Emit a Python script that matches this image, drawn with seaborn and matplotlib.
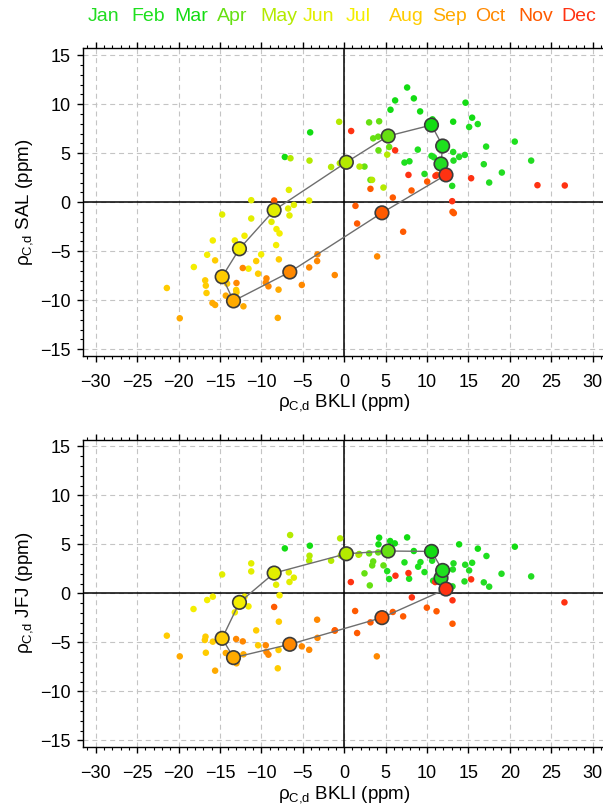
import numpy as np
import pandas as pd
import matplotlib
matplotlib.use("Agg")
import matplotlib.pyplot as plt
import seaborn as sns
from matplotlib.ticker import MultipleLocator

# ---------------- data ----------------
months = ["Jan", "Feb", "Mar", "Apr", "May", "Jun", "Jul", "Aug", "Sep", "Oct", "Nov", "Dec"]
month_colors = ["#22dc22", "#1ee01e", "#12dc12", "#66e012", "#b4ea00", "#e2ee00",
                "#f4ee00", "#ffcc00", "#ffaa00", "#ff8800", "#ff5a00", "#ff3212"]

# monthly mean values (large markers)
mean_bkli = [11.70, 11.90, 10.55, 5.32, 0.27, -8.45, -12.64, -14.73, -13.36, -6.56, 4.57, 12.30]
mean_sal = [3.90, 5.73, 7.87, 6.75, 4.07, -0.82, -4.76, -7.61, -10.08, -7.13, -1.09, 2.78]
mean_jfj = [1.56, 2.34, 4.28, 4.32, 4.04, 2.07, -0.92, -4.59, -6.56, -5.20, -2.48, 0.44]

# individual values, SAL panel: (BKLI, SAL) per month
sal_pts = {
    "Jan": [(13.17, 5.12), (13.89, 4.61), (14.58, 4.82), (13.21, 4.24), (16.87, 3.87),
            (19.05, 3.02), (17.52, 2.00), (13.05, 1.66), (9.71, 2.88), (22.59, 4.24)],
    "Feb": [(10.55, 4.72), (10.84, 4.58), (8.90, 5.36), (17.15, 5.67), (20.61, 6.18),
            (7.89, 4.17), (7.29, 4.04), (15.10, 7.67), (16.14, 7.97)],
    "Mar": [(7.61, 11.70), (8.42, 10.59), (6.16, 10.38), (5.60, 9.43), (9.18, 9.26),
            (14.66, 10.15), (15.46, 8.62), (13.17, 8.21), (10.67, 8.45), (-4.10, 7.12), (-7.16, 4.61)],
    "Apr": [(3.02, 8.14), (4.23, 8.25), (3.51, 6.51), (4.11, 6.68), (4.15, 5.29),
            (5.44, 5.63), (2.46, 3.63), (3.18, 2.27)],
    "May": [(-0.60, 8.20), (-6.48, 4.48), (-4.18, 4.24), (-1.57, 3.59), (-0.52, 3.97),
            (1.86, 3.63), (4.75, 1.49), (3.38, 2.27), (5.20, 4.85)],
    "Jun": [(-6.67, 1.25), (-11.22, 0.20), (-4.22, 0.16), (-6.07, -0.28), (-6.76, -0.65),
            (-6.60, -1.36), (-14.73, -1.26), (-11.22, -1.67), (-8.77, -2.01)],
    "Jul": [(-8.17, -2.75), (-7.80, -3.19), (-12.03, -3.43), (-13.20, -3.91), (-15.86, -3.91),
            (-8.21, -4.38), (-10.02, -5.33), (-16.54, -5.37), (-18.15, -6.62), (-11.55, -6.79)],
    "Aug": [(-15.58, -5.94), (-7.88, -5.84), (-10.62, -6.01), (-10.39, -7.30), (-16.78, -7.98),
            (-16.70, -8.52), (-16.62, -9.27), (-14.13, -8.32), (-21.41, -8.76), (-13.04, -8.96),
            (-13.00, -9.20)],
    "Sep": [(-14.29, -9.54), (-12.16, -10.63), (-19.85, -11.85), (-8.01, -11.81), (-7.92, -8.93),
            (-15.90, -10.29), (-15.58, -10.49)],
    "Oct": [(-12.24, -6.72), (-3.22, -5.33), (-3.26, -6.01), (-4.22, -6.66), (-1.13, -7.44),
            (-5.11, -8.45), (-9.38, -7.78), (-9.46, -8.22), (-9.14, -8.59), (-13.00, -8.25),
            (3.99, -5.54)],
    "Nov": [(1.37, -0.38), (1.57, -2.18), (7.13, -3.02), (13.09, -0.99), (13.25, -1.12),
            (3.18, 1.36), (5.88, 0.47), (8.14, 1.19), (10.03, 2.10), (11.20, 2.78), (-8.45, 0.17)],
    "Dec": [(0.85, 7.26), (6.16, 5.29), (7.77, 2.78), (11.03, 2.68), (15.34, 2.44),
            (23.35, 1.73), (26.65, 1.70), (13.05, 0.10)],
}

# individual values, JFJ panel: (BKLI, JFJ) per month
jfj_pts = {
    "Jan": [(13.21, 3.06), (13.13, 2.44), (14.62, 2.92), (15.10, 2.34), (19.01, 2.00),
            (22.59, 1.73), (13.09, 0.71), (14.54, 1.22), (16.87, 1.12), (17.52, 0.68), (10.75, 1.29)],
    "Feb": [(9.71, 2.17), (7.85, 1.49), (5.44, 1.46), (9.22, 3.19), (8.94, 2.72),
            (7.29, 3.16), (5.20, 2.27), (17.19, 3.81), (15.46, 3.12), (10.63, 3.33)],
    "Mar": [(4.23, 5.68), (5.56, 5.34), (6.12, 5.10), (7.61, 5.71), (13.89, 5.00),
            (16.15, 4.56), (20.62, 4.76), (8.42, 4.32), (4.15, 5.00), (-4.14, 4.86), (-7.16, 4.59)],
    "Apr": [(3.02, 4.08), (4.11, 4.18), (3.51, 3.26), (2.46, 2.04), (3.10, 0.81),
            (1.82, 4.01), (3.39, 2.85), (4.75, 2.85)],
    "May": [(-0.48, 5.61), (-6.52, 5.95), (-4.18, 3.84), (-4.22, 3.33), (-1.57, 3.33),
            (-0.40, 3.87), (1.74, 3.94)],
    "Jun": [(-11.22, 3.06), (-11.22, 2.24), (-14.73, 1.93), (-6.68, 2.14), (-6.07, 1.60),
            (-6.60, 1.16), (-8.21, 0.88)],
    "Jul": [(-7.80, -0.20), (-16.54, -0.68), (-15.86, -0.34), (-18.19, -1.60), (-12.03, -0.34),
            (-11.55, -1.33), (-13.20, -1.94)],
    "Aug": [(-7.88, -2.89), (-10.62, -3.78), (-21.41, -4.32), (-16.74, -4.42), (-16.82, -4.76),
            (-15.86, -4.93), (-16.70, -6.06), (-10.39, -5.30), (-7.92, -5.78), (-8.01, -7.65)],
    "Sep": [(-14.29, -6.09), (-13.00, -7.14), (-12.16, -6.22), (-19.85, -6.43), (-15.58, -7.89)],
    "Oct": [(-13.04, -4.66), (-12.24, -4.90), (-9.46, -5.30), (-9.38, -5.98), (-9.14, -6.26),
            (-3.26, -2.69), (-1.13, -3.81), (-3.22, -4.54), (-4.22, -5.76), (-5.11, -5.41),
            (3.95, -6.43)],
    "Nov": [(1.33, -1.80), (1.57, -4.05), (5.88, -1.90), (7.13, -2.35), (3.18, -2.96),
            (13.09, -3.10), (-1.12, -3.77), (9.99, -1.46), (11.16, -1.83), (-8.45, -1.39)],
    "Dec": [(7.77, 2.07), (6.20, 1.80), (0.81, 1.15), (11.00, 1.15), (15.34, 1.43),
            (8.18, -0.41), (13.09, -0.71), (26.61, -0.92)],
}

x_ticks = [-30, -25, -20, -15, -10, -5, 0, 5, 10, 15, 20, 25, 30]
y_ticks = [-15, -10, -5, 0, 5, 10, 15]
x_label = r"$\mathrm{\rho}_{\mathrm{C{,}d}}$ BKLI (ppm)"
y_labels = [r"$\mathrm{\rho}_{\mathrm{C{,}d}}$ SAL (ppm)", r"$\mathrm{\rho}_{\mathrm{C{,}d}}$ JFJ (ppm)"]

# ---------------- style ----------------
sns.set_theme(style="white")
plt.rcParams["font.family"] = ["Liberation Sans", "DejaVu Sans"]
plt.rcParams["mathtext.fontset"] = "custom"
plt.rcParams["mathtext.rm"] = "Liberation Sans"
plt.rcParams["mathtext.it"] = "Liberation Sans:italic"
plt.rcParams["mathtext.bf"] = "Liberation Sans:bold"

palette = dict(zip(months, month_colors))

def to_df(pts):
    rows = []
    for m in months:
        for (x, y) in pts[m]:
            rows.append((m, x, y))
    return pd.DataFrame(rows, columns=["month", "x", "y"])

fig = plt.figure(figsize=(6.03, 8.05), dpi=100)
W, H = 603.0, 805.0
ax_w = 63 * 8.28 / W
ax_h = 307.7 / H
ax_top = fig.add_axes([83.3 / W, (H - 356.0) / H, ax_w, ax_h])
ax_bot = fig.add_axes([83.3 / W, (H - 747.2) / H, ax_w, ax_h])

panels = [(ax_top, sal_pts, mean_sal, y_labels[0]), (ax_bot, jfj_pts, mean_jfj, y_labels[1])]

for ax, pts, mean_y, ylab in panels:
    df = to_df(pts)
    ax.set_xlim(-31.5, 31.5)
    ax.set_ylim(-15.7, 15.7)
    ax.grid(True, which="major", color="#c4c4c4", linestyle=(0, (4.5, 3.5)), linewidth=0.8)
    ax.set_axisbelow(True)
    ax.axhline(0, color="black", lw=1.1, zorder=1.5)
    ax.axvline(0, color="black", lw=1.1, zorder=1.5)

    sns.scatterplot(data=df, x="x", y="y", hue="month", palette=palette, hue_order=months,
                    s=22, linewidth=0, legend=False, ax=ax, zorder=3)

    mdf = pd.DataFrame({"month": months, "x": mean_bkli, "y": mean_y})
    loop_x = list(mdf["x"]) + [mdf["x"].iloc[0]]
    loop_y = list(mdf["y"]) + [mdf["y"].iloc[0]]
    ax.plot(loop_x, loop_y, color="#6e6e6e", lw=1.0, zorder=4)
    sns.scatterplot(data=mdf, x="x", y="y", hue="month", palette=palette, hue_order=months,
                    s=95, edgecolor="#3c3c3c", linewidth=1.2, legend=False, ax=ax, zorder=5)

    ax.set_xticks(x_ticks)
    ax.set_yticks(y_ticks)
    ax.xaxis.set_minor_locator(MultipleLocator(1))
    ax.yaxis.set_minor_locator(MultipleLocator(1))
    ax.tick_params(which="major", direction="out", length=4, width=1, color="black",
                   labelsize=13, labelcolor="black", bottom=True, left=True)
    ax.tick_params(which="minor", direction="out", length=2.3, width=0.8, color="black",
                   bottom=True, left=True)
    ax.tick_params(axis="x", which="major", pad=9)
    ax.tick_params(axis="y", which="major", pad=5)
    ax.tick_params(axis="x", which="both", top=True)

    for side in ["left", "bottom", "top"]:
        ax.spines[side].set_visible(True)
        ax.spines[side].set_color("black")
        ax.spines[side].set_linewidth(1.0)
    ax.spines["right"].set_visible(False)

    ax.set_xlabel(x_label, fontsize=13.5, labelpad=1, color="black")
    ax.set_ylabel(ylab, fontsize=13.5, labelpad=4, color="black")

# month legend along the top
for i, (m, c) in enumerate(zip(months, month_colors)):
    fig.text((88 + 43 * i) / W, 1 - 16.5 / H, m, color=c, fontsize=14, ha="left", va="center")

fig.savefig("out.png", dpi=100)
